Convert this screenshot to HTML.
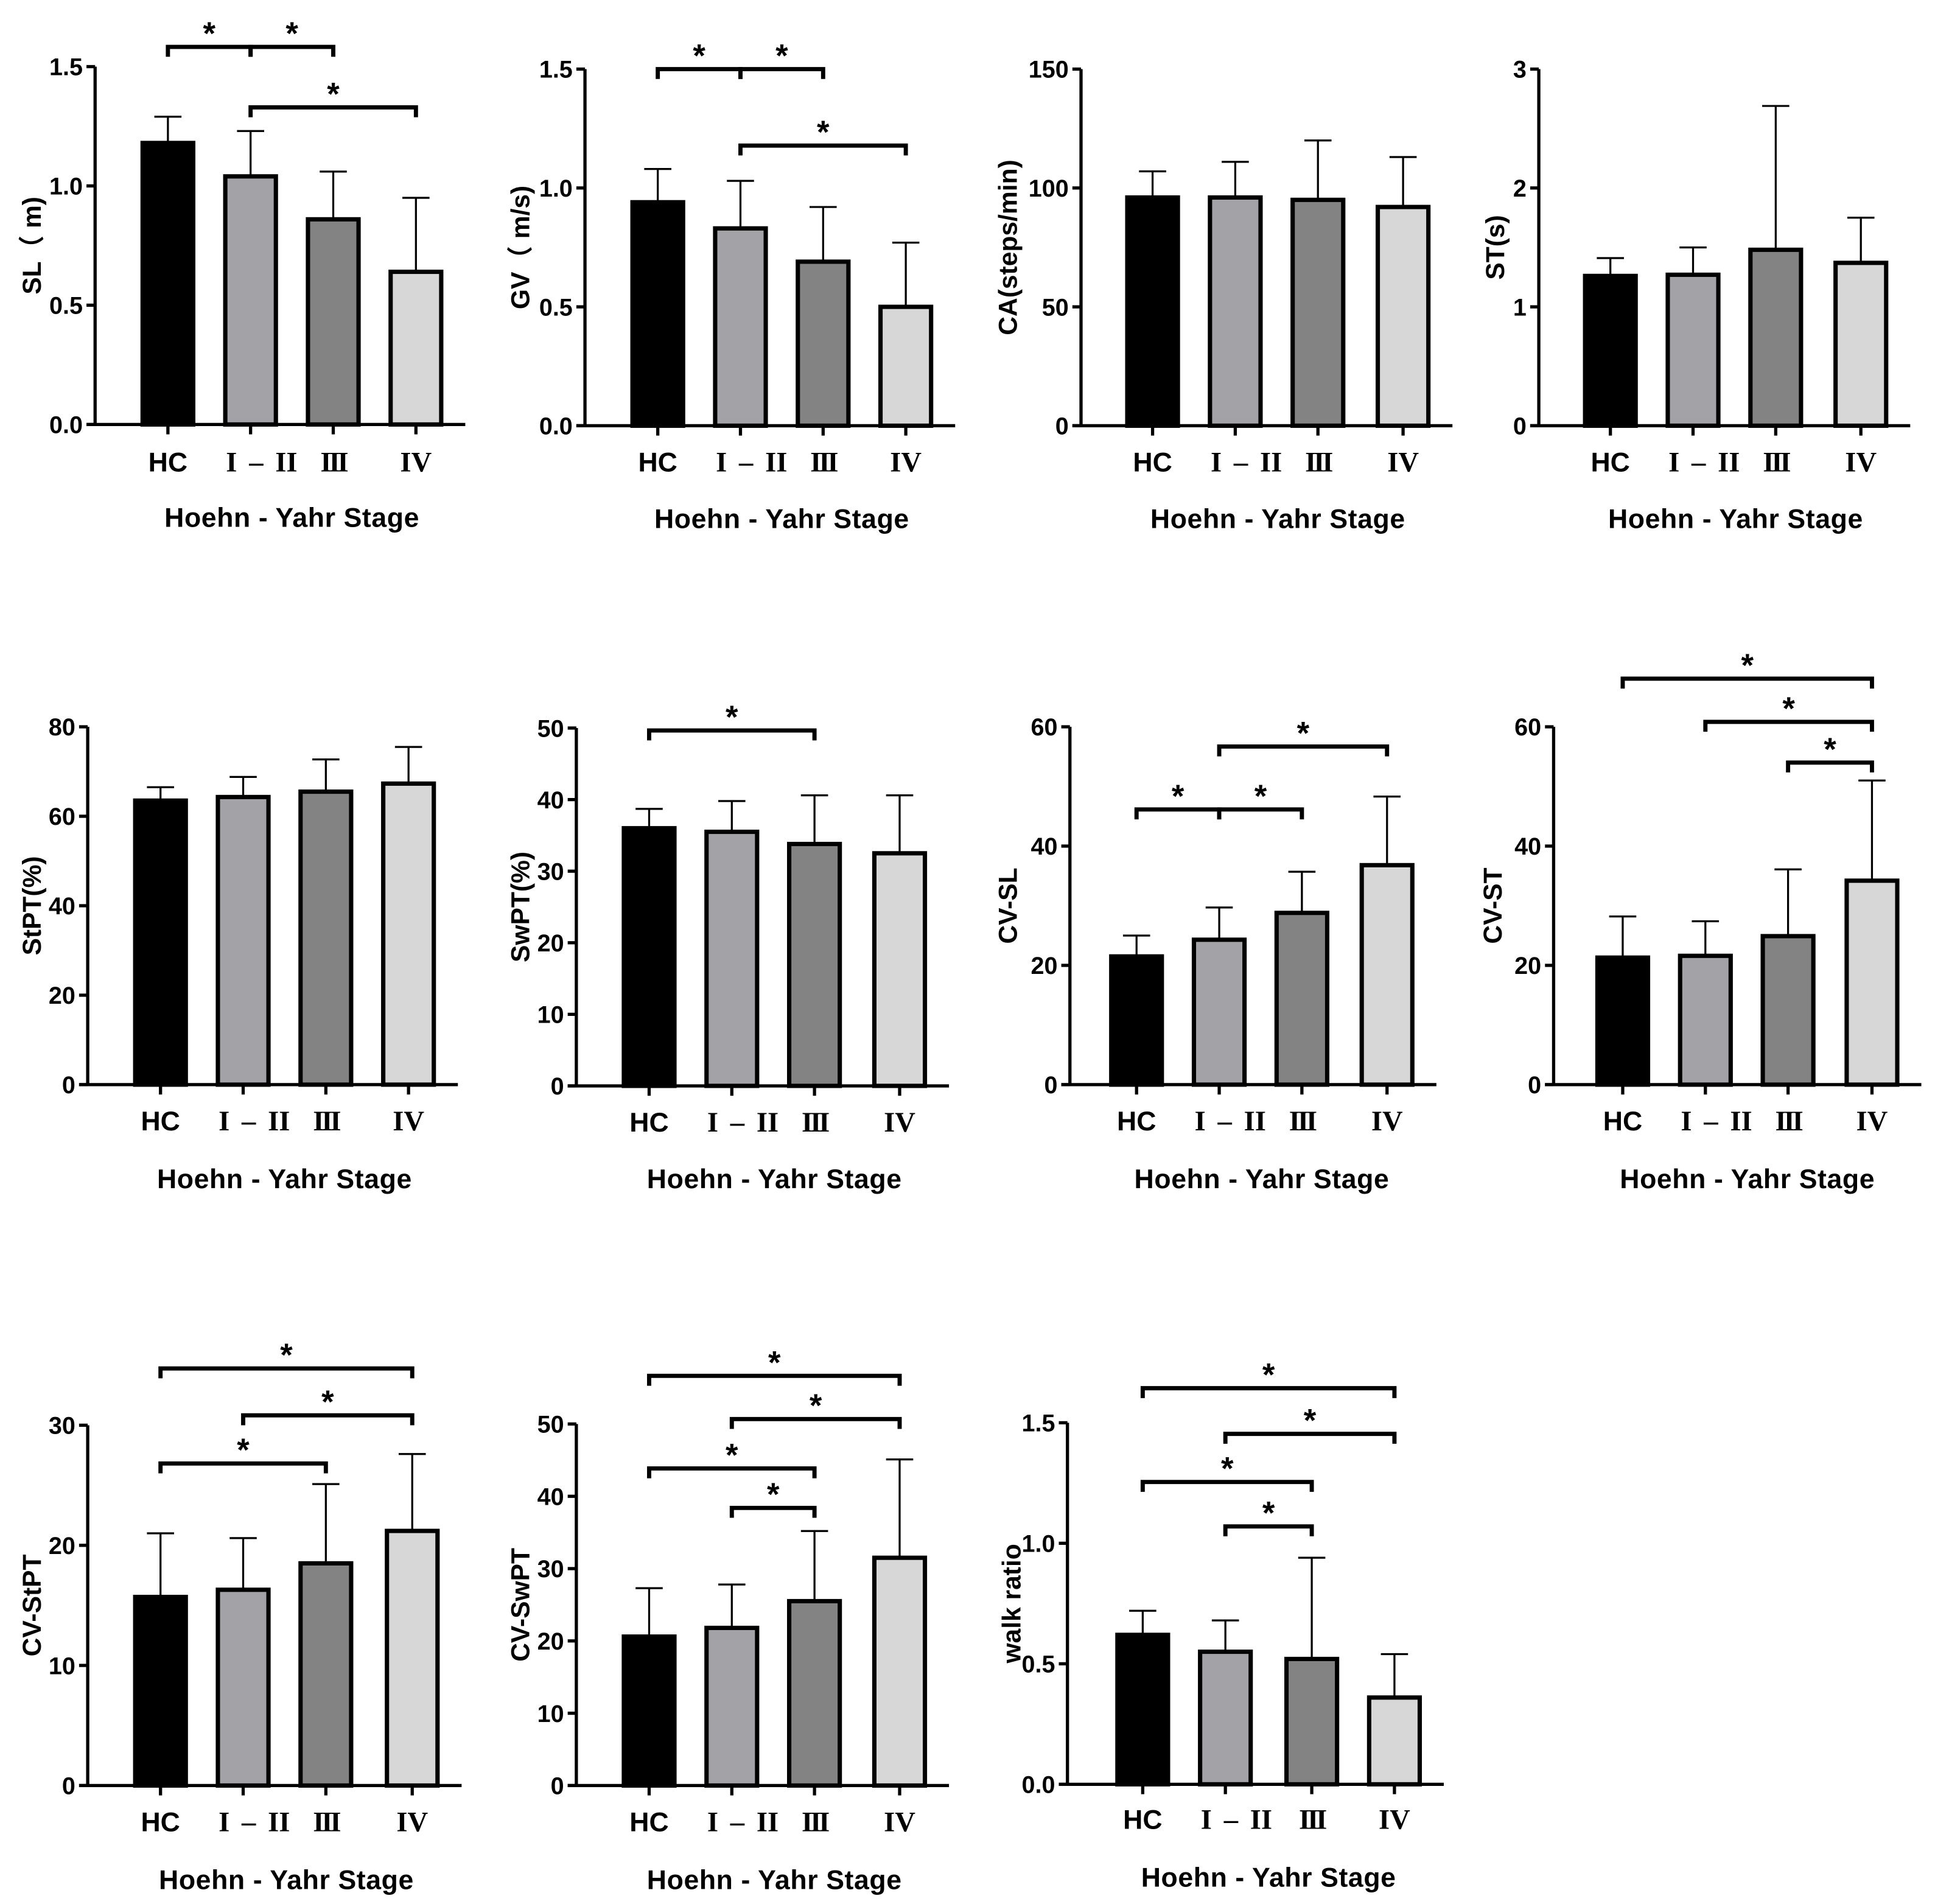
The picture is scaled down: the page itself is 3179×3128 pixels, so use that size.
<!DOCTYPE html>
<html><head><meta charset="utf-8"><style>
html,body{margin:0;padding:0;background:#fff;}
svg{display:block;}
</style></head><body>
<svg id="fig" xmlns="http://www.w3.org/2000/svg" width="3179" height="3128" viewBox="0 0 1568 1543"></svg>
<script>
const categories = ["HC", "I – II", "III", "IV"];
const fills = ["#000000", "#a3a2a7", "#838383", "#d7d7d7"];
const panelNames = ["SL","GV","CA","ST","StPT","SwPT","CV-SL","CV-ST","CV-StPT","CV-SwPT","walk-ratio"];
const yLabels = ["SL（ m)","GV（ m/s)","CA(steps/min)","ST(s)","StPT(%)","SwPT(%)","CV-SL","CV-ST","CV-StPT","CV-SwPT","walk ratio"];
const yMax = [1.5,1.5,150,3,80,50,60,60,30,50,1.5];
const tickLabels = [
 ["0.0","0.5","1.0","1.5"],["0.0","0.5","1.0","1.5"],["0","50","100","150"],["0","1","2","3"],
 ["0","20","40","60","80"],["0","10","20","30","40","50"],["0","20","40","60"],["0","20","40","60"],
 ["0","10","20","30"],["0","10","20","30","40","50"],["0.0","0.5","1.0","1.5"]];
const meanSL=[1.18,1.04,0.86,0.64];
const meanGV=[0.94,0.83,0.69,0.50];
const meanCA=[96,96,95,92];
const meanST=[1.26,1.27,1.48,1.37];
const meanStPT=[63.5,64.3,65.5,67.3];
const meanSwPT=[36,35.5,33.8,32.5];
const meanCVSL=[21.5,24.3,28.8,36.8];
const meanCVST=[21.3,21.6,24.9,34.2];
const meanCVStPT=[15.7,16.3,18.5,21.2];
const meanCVSwPT=[20.6,21.8,25.5,31.5];
const meanWR=[0.62,0.55,0.52,0.36];
const upSL=[1.29,1.23,1.06,0.95];
const upGV=[1.08,1.03,0.92,0.77];
const upCA=[107,111,120,113];
const upST=[1.41,1.50,2.69,1.75];
const upStPT=[66.5,68.8,72.7,75.5];
const upSwPT=[38.7,39.8,40.6,40.6];
const upCVSL=[25,29.7,35.7,48.3];
const upCVST=[28.2,27.4,36.1,51];
const upCVStPT=[21,20.6,25.1,27.6];
const upCVSwPT=[27.3,27.8,35.2,45.1];
const upWR=[0.72,0.68,0.94,0.54];
const means=[meanSL,meanGV,meanCA,meanST,meanStPT,meanSwPT,meanCVSL,meanCVST,meanCVStPT,meanCVSwPT,meanWR];
const ups=[upSL,upGV,upCA,upST,upStPT,upSwPT,upCVSL,upCVST,upCVStPT,upCVSwPT,upWR];
const sigPairs=[
 [[0,1],[1,2],[1,3]],[[0,1],[1,2],[1,3]],[],[],[],[[0,2]],
 [[1,3],[0,1],[1,2]],[[0,3],[1,3],[2,3]],[[0,3],[1,3],[0,2]],
 [[0,3],[1,3],[0,2],[1,2]],[[0,3],[1,3],[0,2],[1,2]]];

const layout=[
 {ax:77,top:54,bot:344,cx:[136,203,270,337],lab:374,tit:419,yl:26},
 {ax:474,top:56,bot:345,cx:[533,600,667,734],lab:374,tit:420,yl:422},
 {ax:876,top:56,bot:345,cx:[934,1001,1068,1137],lab:374,tit:420,yl:817},
 {ax:1247,top:56,bot:345,cx:[1305,1372,1439,1508],lab:374,tit:420,yl:1212},
 {ax:71,top:589,bot:879,cx:[130,197,264,331],lab:908,tit:955,yl:26},
 {ax:467,top:590,bot:880,cx:[526,593,660,729],lab:909,tit:955,yl:422},
 {ax:867,top:589,bot:879,cx:[921,988,1055,1124],lab:908,tit:955,yl:817},
 {ax:1259,top:589,bot:879,cx:[1315,1382,1449,1517],lab:908,tit:955,yl:1210},
 {ax:71,top:1155,bot:1447,cx:[130,197,264,334],lab:1476,tit:1523,yl:26},
 {ax:467,top:1154,bot:1447,cx:[526,593,660,729],lab:1476,tit:1523,yl:422},
 {ax:865,top:1153,bot:1446,cx:[926,993,1063,1130],lab:1474,tit:1521,yl:820}];
const sigY=[[38,38,87],[56,56,118],[],[],[],[592],[605,656,656],[550,585,618],[1109,1147,1186],[1115,1150,1190,1222],[1125,1162,1201,1237]];

const NS="http://www.w3.org/2000/svg";
const svg=document.getElementById('fig');
function mk(tag,attrs,parent,text){const e=document.createElementNS(NS,tag);for(const k in attrs)e.setAttribute(k,attrs[k]);if(text!==undefined)e.textContent=text;parent.appendChild(e);return e;}

layout.forEach((L,p)=>{
  const g=mk('g',{},svg);
  
  
  const y=v=>L.bot-(v/yMax[p])*(L.bot-L.top);
  const right=L.cx[3]+40;
  means[p].forEach((m,i)=>{
    const c=L.cx[i];
    const ey=mk('line',{x1:c,x2:c,y1:y(m),y2:y(ups[p][i]),stroke:'#000','stroke-width':1.6},g);
    
    
    mk('line',{x1:c-11,x2:c+11,y1:y(ups[p][i]),y2:y(ups[p][i]),stroke:'#000','stroke-width':1.6},g);
    const r=mk('rect',{x:c-20.5,y:y(m),width:41,height:L.bot-y(m),fill:fills[i],stroke:'#000','stroke-width':3.5},g);
    
    
  });
  const ya=mk('line',{x1:L.ax,x2:L.ax,y1:L.top,y2:L.bot,stroke:'#000','stroke-width':2.6},g);
  
  
  const xa=mk('line',{x1:L.ax-7,x2:right,y1:L.bot,y2:L.bot,stroke:'#000','stroke-width':2.6},g);
  
  
  const nT=tickLabels[p].length;
  tickLabels[p].forEach((t,k)=>{
    const v=yMax[p]*k/(nT-1), yy=y(v);
    mk('line',{x1:L.ax-7,x2:L.ax,y1:yy,y2:yy,stroke:'#000','stroke-width':2.6},g);
    const tl=mk('text',{x:L.ax-10,y:yy+7,'text-anchor':'end','font-family':'Liberation Sans, sans-serif','font-weight':'bold','font-size':19.5},g,t);
    
    
  });
  categories.forEach((c,i)=>{
    mk('line',{x1:L.cx[i],x2:L.cx[i],y1:L.bot,y2:L.bot+8,stroke:'#000','stroke-width':2.6},g);
    const attrs={x:L.cx[i]+(i==1?9:0),y:L.lab+8,'text-anchor':'middle','font-family':i==0?'Liberation Sans, sans-serif':'Liberation Serif, serif','font-weight':'bold','font-size':i==0?22:23};
    if(i==2) attrs['letter-spacing']='-2';
    if(i==1) attrs['word-spacing']='4';
    const tx=mk('text',attrs,g,c);
    
    
  });
  const xt=mk('text',{x:(L.cx[0]+L.cx[3])/2,y:L.tit+8,'text-anchor':'middle','font-family':'Liberation Sans, sans-serif','font-weight':'bold','font-size':22,'letter-spacing':'0.3'},g,'Hoehn - Yahr Stage');
  
  
  const cy=(L.top+L.bot)/2;
  const yt=mk('text',{x:L.yl,y:cy,'text-anchor':'middle','font-family':'Liberation Sans, "Noto Sans CJK SC", sans-serif','font-weight':'bold','font-size':21,transform:`rotate(-90 ${L.yl} ${cy})`,'dominant-baseline':'central'},g,yLabels[p]);
  
  
  sigPairs[p].forEach((pr,k)=>{
    const by=sigY[p][k], x1=L.cx[pr[0]], x2=L.cx[pr[1]];
    const b=mk('path',{d:`M${x1},${by+8}V${by}H${x2}V${by+8}`,fill:'none',stroke:'#000','stroke-width':3.4},g);
    
    
    const s=mk('text',{x:(x1+x2)/2,y:by-2,'text-anchor':'middle','font-family':'Liberation Sans, sans-serif','font-weight':'bold','font-size':26},g,'*');
    
    
  });
});
</script>
</body></html>
